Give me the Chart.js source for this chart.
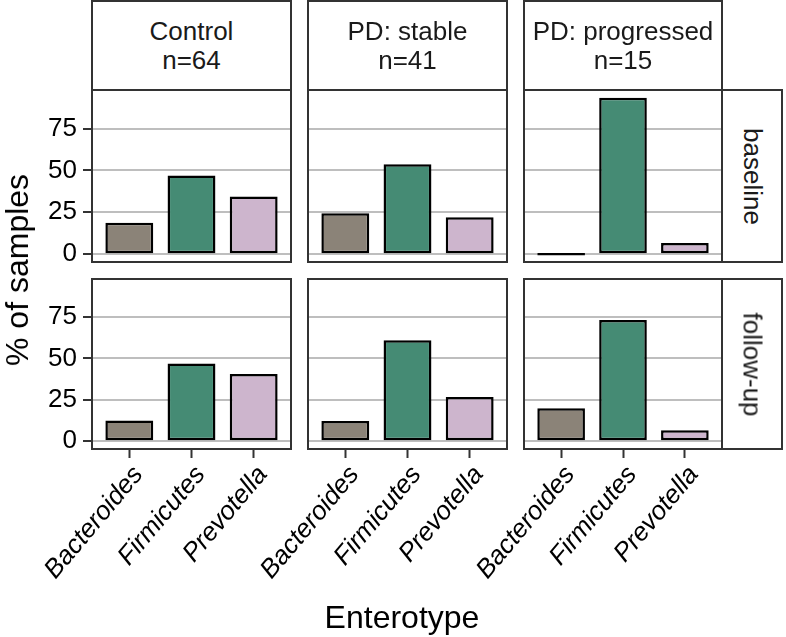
<!DOCTYPE html>
<html>
<head>
<meta charset="utf-8">
<script src="https://cdn.jsdelivr.net/npm/chart.js@4"></script>
<style>
  body { margin: 0; background: #fff; }
  #wrap { position: relative; width: 786px; height: 637px; overflow: hidden; font-family: 'Liberation Sans', Arial, sans-serif; }
  #wrap canvas { position: absolute; }
  .strip { position: absolute; box-sizing: border-box; border: 2px solid #333; background: #fff;
           display: flex; align-items: center; justify-content: center; text-align: center;
           font-size: 26px; line-height: 29px; color: #1a1a1a; }
  .strip span.v { transform: rotate(90deg); white-space: nowrap; }
  .title { position: absolute; font-size: 32px; line-height: 32px; color: #000; white-space: nowrap; }
</style>
</head>
<body>
<div id="wrap"></div>
<script>
// Данные
const enterotypes = ['Bacteroides', 'Firmicutes', 'Prevotella'];
const groups = ['Control', 'PD: stable', 'PD: progressed'];
const groupN = [64, 41, 15];
const timepoints = ['baseline', 'follow-up'];

// % образцов по энтеротипам
const controlBaseline = [18.8, 46.9, 34.4];
const controlFollowup = [12.5, 46.9, 40.6];
const stableBaseline = [24.4, 53.7, 22.0];
const stableFollowup = [12.2, 61.0, 26.8];
const progressedBaseline = [0, 93.3, 6.7];
const progressedFollowup = [20.0, 73.3, 6.7];

const yTicks = [0, 25, 50, 75];

const values = [
    [controlBaseline, stableBaseline, progressedBaseline],
    [controlFollowup, stableFollowup, progressedFollowup]
];

const barColors = ['#8B8378', '#458B74', '#CDB5CD'];

// Геометрия панелей
const cols = [[92, 291], [308, 507], [524, 722]];
const rows = [[90, 262], [279, 449]];
const H = 637;
const AXW = 92;

Chart.defaults.font.family = "'Liberation Sans', Arial, sans-serif";
Chart.defaults.color = '#000';

const panelBorder = {
    id: 'panelBorder',
    afterDraw(chart) {
        const a = chart.chartArea;
        const ctx = chart.ctx;
        ctx.save();
        ctx.strokeStyle = '#333';
        ctx.lineWidth = 2;
        ctx.strokeRect(a.left, a.top, a.right - a.left, a.bottom - a.top);
        ctx.restore();
    }
};

const wrap = document.getElementById('wrap');

function makePanel(c, r) {
    const left = cols[c][0] - AXW;
    const top = rows[r][0] - 1;
    const width = cols[c][1] + 1 - left;
    const height = r === 1 ? H - top : rows[r][1] + 1 - top;

    const canvas = document.createElement('canvas');
    canvas.width = width;
    canvas.height = height;
    canvas.style.left = left + 'px';
    canvas.style.top = top + 'px';
    wrap.appendChild(canvas);

    const vals = values[r][c];
    const data = enterotypes.map((name, i) => ({ x: i + 1, y: vals[i] }));

    new Chart(canvas.getContext('2d'), {
        type: 'bar',
        data: {
            datasets: [{
                data: data,
                backgroundColor: barColors,
                borderColor: '#000',
                borderWidth: 2.5,
                borderSkipped: false,
                barPercentage: 0.77,
                categoryPercentage: 1,
                minBarLength: 2.5
            }]
        },
        options: {
            responsive: false,
            animation: false,
            devicePixelRatio: 1,
            layout: { padding: { left: 0, top: 1, right: 1, bottom: r === 0 ? 1 : 0 } },
            plugins: { legend: { display: false }, tooltip: { enabled: false } },
            scales: {
                x: {
                    type: 'linear',
                    min: 0.4,
                    max: 3.6,
                    offset: false,
                    display: r === 1,
                    afterBuildTicks: s => { s.ticks = enterotypes.map((n, i) => ({ value: i + 1 })); },
                    afterFit: s => {
                        if (r === 1) s.height = H - rows[1][1];
                        s.paddingLeft = 0;
                        s.paddingRight = 0;
                    },
                    border: { display: false },
                    grid: { display: true, offset: false, drawOnChartArea: false, drawTicks: true, tickLength: 9, tickColor: '#333', tickWidth: 2 },
                    ticks: {
                        autoSkip: false,
                        minRotation: 50,
                        maxRotation: 50,
                        padding: 2,
                        labelOffset: 9,
                        font: { size: 26, style: 'italic' },
                        callback: v => enterotypes[v - 1]
                    }
                },
                y: {
                    min: -4.67,
                    max: 98,
                    afterBuildTicks: s => { s.ticks = yTicks.map(v => ({ value: v })); },
                    afterFit: s => {
                        s.width = AXW;
                        s.paddingTop = 0;
                        s.paddingBottom = 0;
                    },
                    border: { display: false },
                    grid: { color: '#bebebe', lineWidth: 2, drawTicks: c === 0, tickLength: 9, tickColor: '#333', tickWidth: 2 },
                    ticks: { display: c === 0, padding: 6, font: { size: 26 } }
                }
            }
        },
        plugins: [panelBorder]
    });
}

for (let r = 0; r < 2; r++) {
    for (let c = 0; c < 3; c++) makePanel(c, r);
}

// Полосы фасетов сверху
groups.forEach((g, c) => {
    const d = document.createElement('div');
    d.className = 'strip';
    d.style.left = (cols[c][0] - 1) + 'px';
    d.style.top = '0px';
    d.style.width = (cols[c][1] - cols[c][0] + 2) + 'px';
    d.style.height = (rows[0][0] + 1) + 'px';
    d.innerHTML = g + '<br>n=' + groupN[c];
    wrap.appendChild(d);
});

// Полосы фасетов справа
timepoints.forEach((t, r) => {
    const d = document.createElement('div');
    d.className = 'strip';
    d.style.left = (cols[2][1] - 1) + 'px';
    d.style.top = (rows[r][0] - 1) + 'px';
    d.style.width = (783 - cols[2][1] + 1) + 'px';
    d.style.height = (rows[r][1] - rows[r][0] + 2) + 'px';
    d.innerHTML = '<span class="v">' + t + '</span>';
    wrap.appendChild(d);
});

// Подписи осей
const yTitle = document.createElement('div');
yTitle.className = 'title';
yTitle.textContent = '% of samples';
yTitle.style.left = '17px';
yTitle.style.top = ((rows[0][0] + rows[1][1]) / 2) + 'px';
yTitle.style.transform = 'translate(-50%, -50%) rotate(-90deg)';
wrap.appendChild(yTitle);

const xTitle = document.createElement('div');
xTitle.className = 'title';
xTitle.textContent = 'Enterotype';
xTitle.style.left = '402px';
xTitle.style.top = '601px';
xTitle.style.transform = 'translateX(-50%)';
wrap.appendChild(xTitle);
</script>
</body>
</html>
